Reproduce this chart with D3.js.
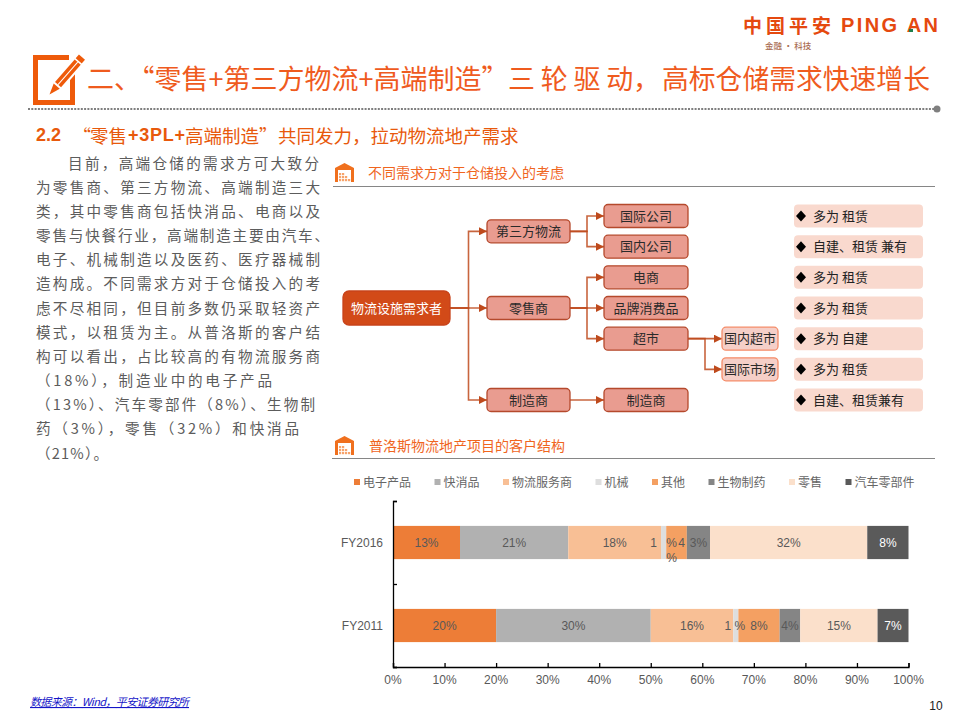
<!DOCTYPE html>
<html><head><meta charset="utf-8">
<script src="https://cdn.jsdelivr.net/npm/d3@7/dist/d3.min.js"></script>
<style>html,body{margin:0;background:#fff}svg{display:block}</style></head>
<body><svg id="c" width="960" height="720"></svg>
<script>
const CJK='"Noto Sans CJK SC","Noto Sans",sans-serif', LAT='"Liberation Sans",Arial,'+CJK;
const ORANGE='#EF5B1E';
const paragraph=['目前，高端仓储的需求方可大致分','为零售商、第三方物流、高端制造三大','类，其中零售商包括快消品、电商以及','零售与快餐行业，高端制造主要由汽车、','电子、机械制造以及医药、医疗器械制','造构成。不同需求方对于仓储投入的考','虑不尽相同，但目前多数仍采取轻资产','模式，以租赁为主。从普洛斯的客户结','构可以看出，占比较高的有物流服务商','（18%），制造业中的电子产品','（13%）、汽车零部件（8%）、生物制','药（3%），零售（32%）和快消品','（21%）。'];
const categories=['FY2016','FY2011'];
const seriesNames=['电子产品','快消品','物流服务商','机械','其他','生物制药','零售','汽车零部件'];
const seriesColors=['#ED7D37','#B1B1B1','#F8BF95','#DEDEDE','#F4A062','#858585','#FBE0CB','#5A5A5A'];
const fy2016=[13,21,18,1,4,4.5,30.5,8];
const fy2011=[20,30,16,1,8,4,15,6];
const labels2016=['13%','21%','18%','','','3%','32%','8%'];
const labels2011=['20%','30%','16%','','8%','4%','15%','7%'];
const splitLabels=[['FY2016',3,'1',-10,0],['FY2016',3,'%',8,0],['FY2016',4,'4',5,0],['FY2016',4,'%',-5,15],['FY2011',3,'1',-8,0],['FY2011',3,'%',4,0]];
const xTicks=[0,10,20,30,40,50,60,70,80,90,100];
const nodeNames=['物流设施需求者','第三方物流','零售商','制造商','国际公司','国内公司','电商','品牌消费品','超市','制造商 ','国内超市','国际市场'];
const nodeLevels=[0,1,1,1,2,2,2,2,2,2,3,3];
const nodeRows=[3,0.5,3,6,0,1,2,3,4,6,4,5];
const nodeLinks=[[0,1],[0,2],[0,3],[1,4],[1,5],[2,6],[2,7],[2,8],[3,9],[8,10],[8,11]];
const considerations=['多为 租赁','自建、租赁 兼有','多为 租赁','多为 租赁','多为 自建','多为 租赁','自建、租赁兼有'];

const svg=d3.select('#c');
const txt=(x,y,s,size,fill,o={})=>svg.append('text').attr('x',x).attr('y',y).text(s)
  .attr('font-size',size).attr('fill',fill).attr('font-family',o.ff||CJK).attr('font-weight',o.w||400)
  .attr('text-anchor',o.a||'start').attr('dominant-baseline','central').style('letter-spacing',o.ls||0);

// logo
txt(743,24,'中国平安',19,'#E5490F',{w:700}).attr('textLength',88);
txt(841,24.5,'PING AN',20,'#E5490F',{w:700,ff:LAT}).attr('textLength',97);
svg.append('rect').attr('x',909).attr('y',29).attr('width',4).attr('height',3).attr('fill','#1E7F4C');
txt(765,45,'金融 · 科技',8.5,'#A86B50',{w:500});

// title icon
svg.append('path').attr('fill','none').attr('stroke','#EE5A0A').attr('stroke-width',5)
  .attr('d','M69 57.5H35.5V102.5H72.5V72');
svg.append('g').attr('transform','translate(49.5,94.5) rotate(41)').call(g=>{
  g.append('path').attr('d','M-6 -12H6V-50H-6Z').attr('fill','#fff');
  g.append('path').attr('d','M0 0L-4 -11H4Z').attr('fill','#EE5A0A');
  g.append('rect').attr('x',-4).attr('y',-43).attr('width',8).attr('height',30).attr('fill','#EE5A0A');
  g.append('rect').attr('x',-.5).attr('y',-43).attr('width',1).attr('height',30).attr('fill','#fff');
  g.append('rect').attr('x',-4).attr('y',-49.5).attr('width',8).attr('height',5).attr('fill','#EE5A0A');
});
// title
txt(87,77,'二、“零售+第三方物流+高端制造”',27,ORANGE);
txt(508,77,'三 轮 驱 动，',27,ORANGE).attr('textLength',152);
txt(662,77,'高标仓储需求快速增长',26.8,ORANGE);
svg.append('line').attr('x1',28).attr('x2',935).attr('y1',109).attr('y2',109)
  .attr('stroke','#7f7f7f').attr('stroke-width',2).attr('stroke-dasharray','2 1.3');
svg.append('circle').attr('cx',937).attr('cy',109).attr('r',3.5).attr('fill','#7f7f7f');

// subtitle
txt(36,135,'2.2',18,'#E8590C',{w:700,ff:LAT});
txt(73,135,'“',18,'#E8590C');
txt(90,135,'零售',18.5,'#E8590C');
txt(128,135,'+3PL+',18,'#E8590C',{w:700,ff:LAT}).attr('textLength',57);
txt(185,135,'高端制造”',18.5,'#E8590C');
txt(278,135,'共同发力，拉动物流地产需求',18.5,'#E8590C');

// paragraph
const paraY=d3.scaleLinear().domain([0,12]).range([162,452]);
const paraW=[251,284,284,293,284,284,284,284,284,236,279,263,72];
paragraph.forEach((l,i)=>{
  txt(i===0?68:36,paraY(i),l,14.6,'#5c5c5c').attr('textLength',paraW[i]);
});

// section headers
function house(x,y){
  svg.append('path').attr('fill','#F0701E').attr('d',`M${x} ${y+5}L${x+9.5} ${y}L${x+19} ${y+5}V${y+19}H${x}Z`);
  svg.append('rect').attr('x',x+3).attr('y',y+7).attr('width',13).attr('height',12).attr('fill','#fff');
  [[0,2],[3,2],[0,5],[3,5],[6,5],[0,8],[3,8],[6,8],[9,8]].forEach(p=>
    svg.append('rect').attr('x',x+4+p[0]).attr('y',y+8+p[1]).attr('width',2.2).attr('height',2.2).attr('fill','#F7A36B'));
}
house(335,163); txt(368,171.5,'不同需求方对于仓储投入的考虑',14,'#F0651E');
svg.append('line').attr('x1',333).attr('x2',935).attr('y1',186.5).attr('y2',186.5).attr('stroke','#868686');
house(335,436); txt(369,444.5,'普洛斯物流地产项目的客户结构',14,'#F0651E');
svg.append('line').attr('x1',332).attr('x2',935).attr('y1',458.5).attr('y2',458.5).attr('stroke','#868686');

// flow diagram
const rowY=d3.scaleLinear().domain([0,6]).range([216,400]);
const colLeft=d3.scaleOrdinal().domain([0,1,2,3]).range([343,487,604,722]);
const colRight=d3.scaleOrdinal().domain([0,1,2,3]).range([450,570,688,778]);
const boxH=l=>l===0?34:23;
const FLOW='#BE4A1C';
svg.append('defs').append('marker').attr('id','ah').attr('viewBox','0 0 8 8').attr('refX',8).attr('refY',4)
  .attr('markerUnits','userSpaceOnUse').attr('markerWidth',8).attr('markerHeight',8).attr('orient','auto')
  .append('path').attr('d','M0 0L8 4L0 8Z').attr('fill',FLOW);
svg.append('g').selectAll('path').data(nodeLinks).join('path').attr('fill','none').attr('stroke',FLOW).attr('stroke-opacity',.85)
  .attr('stroke-width',1.6).attr('marker-end','url(#ah)').attr('d',([a,b])=>{
    const x0=colRight(nodeLevels[a]),x1=colLeft(nodeLevels[b]),y0=rowY(nodeRows[a]),y1=rowY(nodeRows[b]),m=(x0+x1)/2;
    return `M${x0} ${y0}H${m}V${y1}H${x1}`;
  });
const nodes=svg.append('g').selectAll('g').data(nodeNames).join('g');
const nodeFill=['#D24A18','#E99C90','#F5CFC8'], nodeStroke=['#C8431A','#B5492C','#F58C68'];
nodes.append('rect').attr('x',(d,i)=>colLeft(nodeLevels[i])).attr('width',(d,i)=>colRight(nodeLevels[i])-colLeft(nodeLevels[i]))
  .attr('y',(d,i)=>rowY(nodeRows[i])-boxH(nodeLevels[i])/2).attr('height',(d,i)=>boxH(nodeLevels[i]))
  .attr('rx',(d,i)=>nodeLevels[i]===0?6:4)
  .attr('fill',(d,i)=>nodeFill[Math.min(nodeLevels[i],1)+(nodeLevels[i]===3?1:0)])
  .attr('stroke',(d,i)=>nodeStroke[Math.min(nodeLevels[i],1)+(nodeLevels[i]===3?1:0)]).attr('stroke-width',1.3);
nodes.append('text').attr('x',(d,i)=>(colLeft(nodeLevels[i])+colRight(nodeLevels[i]))/2).attr('y',(d,i)=>rowY(nodeRows[i])-1)
  .attr('text-anchor','middle').attr('dominant-baseline','central').attr('font-family',CJK).attr('font-size',13)
  .attr('fill',(d,i)=>nodeLevels[i]===0?'#fff':'#2a2a2a').text(d=>d.trim());
// considerations
const pills=svg.append('g').selectAll('g').data(considerations).join('g');
pills.append('rect').attr('x',794).attr('width',129).attr('y',(d,i)=>rowY(i)-11.5).attr('height',23).attr('rx',4).attr('fill','#F9D9CE');
pills.append('path').attr('transform',(d,i)=>`translate(801,${rowY(i)})`).attr('d','M0 -5.5L5 0L0 5.5L-5 0Z').attr('fill','#000');
pills.append('text').attr('x',813).attr('y',(d,i)=>rowY(i)-1).attr('dominant-baseline','central').attr('font-family',CJK).attr('font-size',13).attr('fill','#222').text(d=>d);

// legend
let lx=354;
seriesNames.forEach((n,i)=>{
  svg.append('rect').attr('x',lx).attr('y',479).attr('width',6).attr('height',6).attr('fill',seriesColors[i]);
  txt(lx+9,481.5,n,12,'#666');
  lx+=9+n.length*12+23.5;
});

// stacked bars
const x=d3.scaleLinear().domain([0,100]).range([393,908.5]);
const y=d3.scaleBand().domain(categories).range([501,667]).paddingInner(.6).paddingOuter(.3);
const rows=categories.map((c,k)=>{const v=k?fy2011:fy2016;const o={cat:c};seriesNames.forEach((n,i)=>o[n]=v[i]);return o;});
const stack=d3.stack().keys(seriesNames)(rows);
const labelOf={FY2016:labels2016,FY2011:labels2011};
const segs=svg.append('g').selectAll('g').data(stack).join('g').attr('fill',(d,i)=>seriesColors[i]);
segs.selectAll('rect').data(d=>d).join('rect').attr('x',d=>x(d[0])).attr('width',d=>x(d[1])-x(d[0]))
  .attr('y',d=>y(d.data.cat)).attr('height',y.bandwidth());
const barText=(px,py,s,i)=>txt(px,py,s,12,i===7?'#fff':'#595959',{ff:LAT,a:'middle'});
stack.forEach((ser,i)=>ser.forEach(d=>{
  const s=labelOf[d.data.cat][i];
  if(s) barText((x(d[0])+x(d[1]))/2,y(d.data.cat)+y.bandwidth()/2,s,i);
}));
splitLabels.forEach(([c,i,s,dx,dy])=>{
  const d=stack[i].find(e=>e.data.cat===c);
  barText((x(d[0])+x(d[1]))/2+dx,y(c)+y.bandwidth()/2+dy,s,i);
});

// axes
const ax=svg.append('g').attr('transform','translate(0,667)').call(d3.axisBottom(x).tickValues(xTicks).tickSize(-4).tickPadding(0).tickFormat(d=>d+'%'));
ax.selectAll('text').remove();
xTicks.forEach(t=>txt(x(t),680,t+'%',12,'#595959',{ff:LAT,a:'middle'}));
const yTicks=d3.scaleLinear().domain([0,2]).range([501,667]);
svg.append('g').attr('transform','translate(393,0)').call(d3.axisLeft(yTicks).tickValues([0,1,2]).tickSize(-4).tickFormat(''));
svg.selectAll('.domain,.tick line').attr('stroke','#000').attr('stroke-width',1.3);
svg.selectAll('.domain').attr('d',function(){return d3.select(this).attr('d').replace(/^M([\d.]+),-4V0H([\d.]+)V-4$/,'M$1,0H$2').replace(/^M-4,([\d.]+)H0V([\d.]+)H-4$/,'M0,$1V$2').replace(/^M4,([\d.]+)H0V([\d.]+)H4$/,'M0,$1V$2');});
categories.forEach(c=>txt(383,y(c)+y.bandwidth()/2,c,12,'#595959',{ff:LAT,a:'end'}));

// footer
txt(30,701,'数据来源：Wind，平安证券研究所',11,'#1515C8',{}).style('font-style','italic').attr('text-decoration','underline').attr('textLength',159);
txt(936,706,'10',12,'#222',{ff:LAT,a:'middle'});
</script></body></html>
